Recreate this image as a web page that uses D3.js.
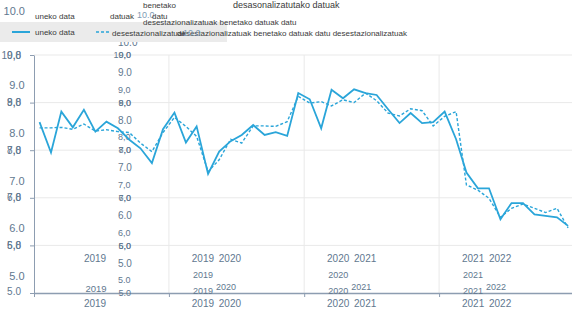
<!DOCTYPE html>
<html>
<head>
<meta charset="utf-8">
<script src="https://cdn.jsdelivr.net/npm/d3@7"></script>
<style>
  body { margin: 0; background: #fff; }
  svg { font-family: "Liberation Sans", Arial, sans-serif; }
  .lbl { fill: #61788f; }
  .leg { fill: #3a3a3a; }
</style>
</head>
<body>
<div id="chart"></div>
<script>
// monthly series, Jan 2019 .. Dec 2022
var unekoData = [8.59, 7.95, 8.81, 8.48, 8.85, 8.39, 8.60, 8.46, 8.22, 8.04, 7.73, 8.44,
                 8.79, 8.16, 8.50, 7.50, 7.97, 8.19, 8.32, 8.53, 8.32, 8.38, 8.30, 9.20,
                 9.07, 8.46, 9.27, 9.09, 9.28, 9.20, 9.16, 8.86, 8.57, 8.78, 8.57, 8.59,
                 8.81, 8.23, 7.53, 7.20, 7.20, 6.55, 6.89, 6.89, 6.65, 6.62, 6.59, 6.41];
var desestazionalizatuak = [8.47, 8.47, 8.48, 8.44, 8.55, 8.40, 8.43, 8.39, 8.37, 8.15, 7.97, 8.37,
                 8.69, 8.50, 8.29, 7.55, 7.80, 8.23, 8.15, 8.51, 8.51, 8.50, 8.60, 9.13,
                 8.99, 9.02, 8.93, 9.06, 9.00, 9.20, 9.04, 8.78, 8.72, 8.87, 8.83, 8.51,
                 8.71, 8.81, 7.27, 7.16, 6.99, 6.59, 6.78, 6.87, 6.78, 6.69, 6.78, 6.37];
var years = [2019, 2020, 2021, 2022];
var yTicks = [10, 9, 8, 7, 6, 5];
var midLabelsB = ["10.0", "9,0", "8,0", "7,0", "6,0", "5.0"];

var width = 572, height = 309;
var lineColor = "#2aa5d9";

var months = d3.timeMonth.range(new Date(2019, 0, 1), new Date(2023, 0, 1));
var solid = months.map(function(m, i) { return {date: new Date(m.getFullYear(), m.getMonth(), 16), v: unekoData[i]}; });
var dashed = months.map(function(m, i) { return {date: new Date(m.getFullYear(), m.getMonth(), 16), v: desestazionalizatuak[i]}; });

var x = d3.scaleTime()
  .domain([new Date(2019, 0, 1), new Date(2023, 0, 1)])
  .range([34, 574]);

var y = d3.scaleLinear()
  .domain([5, 10])
  .range([293, 55]);

var svg = d3.select("#chart").append("svg")
  .attr("width", width)
  .attr("height", height);

// grid
svg.append("g").selectAll("line")
  .data(yTicks.filter(function(d) { return d > 5; }))
  .enter().append("line")
  .attr("x1", 34).attr("x2", width)
  .attr("y1", function(d) { return y(d); })
  .attr("y2", function(d) { return y(d); })
  .style("stroke", "#e9e9e9");

svg.append("g").selectAll("line")
  .data(years.slice(1))
  .enter().append("line")
  .attr("x1", function(d) { return x(new Date(d, 0, 1)); })
  .attr("x2", function(d) { return x(new Date(d, 0, 1)); })
  .attr("y1", y(10)).attr("y2", y(5))
  .style("stroke", "#e9e9e9");

// axes
var yAxis = svg.append("g")
  .attr("transform", "translate(34,0)")
  .call(d3.axisLeft(y).tickValues(yTicks).tickSize(4).tickSizeOuter(0).tickFormat(""));
yAxis.selectAll("path, line").style("stroke", "#8d9db1");

var xAxis = svg.append("g")
  .attr("transform", "translate(0," + y(5) + ")")
  .call(d3.axisBottom(x).ticks(d3.timeYear).tickSize(4).tickSizeOuter(0).tickFormat(""));
xAxis.select(".domain").style("stroke", "#8d9db1").style("stroke-width", 1.5);
xAxis.selectAll(".tick line").style("stroke", "#8d9db1");

function label(txt, px, py, size, anchor, cls) {
  return svg.append("text")
    .attr("class", cls || "lbl")
    .attr("x", px).attr("y", py)
    .attr("dy", "0.35em")
    .attr("text-anchor", anchor || "start")
    .style("font-size", size + "px")
    .text(txt);
}

// left column labels
label("10.0", 25, 11, 11, "end");
yTicks.forEach(function(v) {
  label(v.toFixed(1), 24.5, y(v) - 17, 11, "end");
  if (v > 5) {
    label(v + ",0", 21, y(v), 10, "end");
    label((v - 1) + ",8", 21, y(v), 10, "end");
  } else {
    label("5.0", 21, y(v) - 2, 10, "end");
  }
});

// middle column labels
yTicks.forEach(function(v, i) {
  if (v < 10) label(v.toFixed(1), 118, y(v) - 30, 10, "start");
  label(midLabelsB[i], 118, y(v) - 13, i == 0 ? 10 : 9, "start");
  if (v > 5) {
    label(v + ",0", 131, y(v), 9, "end");
    label((v - 1) + ",0", 131, y(v), 9, "end");
  } else {
    label("5.0", 131, y(v), 9, "end");
  }
});

// year labels
years.forEach(function(yr, i) {
  var t = x(new Date(yr, 0, 1));
  label(yr, t + 61, 258, 10, "middle");
  label(yr, t + 61, 303, 10, "middle");
  if (i == 0) {
    label(yr, t + 62, 289, 9.5, "middle");
  } else {
    label(years[i - 1], t + 34, 258, 10, "middle");
    label(years[i - 1], t + 34, 275, 9, "middle");
    label(years[i - 1], t + 34, 291, 9, "middle");
    label(yr, t + 57, 287, 9, "middle");
    label(years[i - 1], t + 34, 303, 10, "middle");
  }
});

// lines
var line = d3.line()
  .x(function(d) { return x(d.date); })
  .y(function(d) { return y(d.v); });

svg.append("path")
  .datum(dashed)
  .attr("d", line)
  .style("fill", "none")
  .style("stroke", lineColor)
  .style("stroke-width", 1.4)
  .style("stroke-dasharray", "3,2");

svg.append("path")
  .datum(solid)
  .attr("d", line)
  .style("fill", "none")
  .style("stroke", lineColor)
  .style("stroke-width", 1.8);

// legend
svg.append("rect")
  .attr("x", 0).attr("y", 22)
  .attr("width", 227).attr("height", 20)
  .style("fill", "#ebebeb");

svg.append("line")
  .attr("x1", 12).attr("x2", 30).attr("y1", 32).attr("y2", 32)
  .style("stroke", lineColor).style("stroke-width", 2);
label("uneko data", 35, 32, 8, "start", "leg");

svg.append("line")
  .attr("x1", 96).attr("x2", 110).attr("y1", 32).attr("y2", 32)
  .style("stroke", lineColor).style("stroke-width", 1.4)
  .style("stroke-dasharray", "3,2");
label("desestazionalizatuak", 112, 33, 8, "start", "leg");
label("desestazionalizatuak benetako datuak datu desestazionalizatuak", 177, 33, 8, "start", "leg");
label("10.0", 183, 33, 9, "start").style("fill", "#7f9bb4");

label("uneko data", 35, 16, 8, "start", "leg");
label("datuak", 110, 16, 8, "start", "leg");
label("10.0", 137, 15, 9, "start").style("fill", "#7f9bb4");
label("datu", 152, 16, 8, "start", "leg");
label("benetako", 143, 5, 8, "start", "leg");
label("desasonalizatutako datuak", 233, 5, 9, "start", "leg");
label("desestazionalizatuak benetako datuak datu", 143, 22, 8, "start", "leg");
</script>
</body>
</html>
